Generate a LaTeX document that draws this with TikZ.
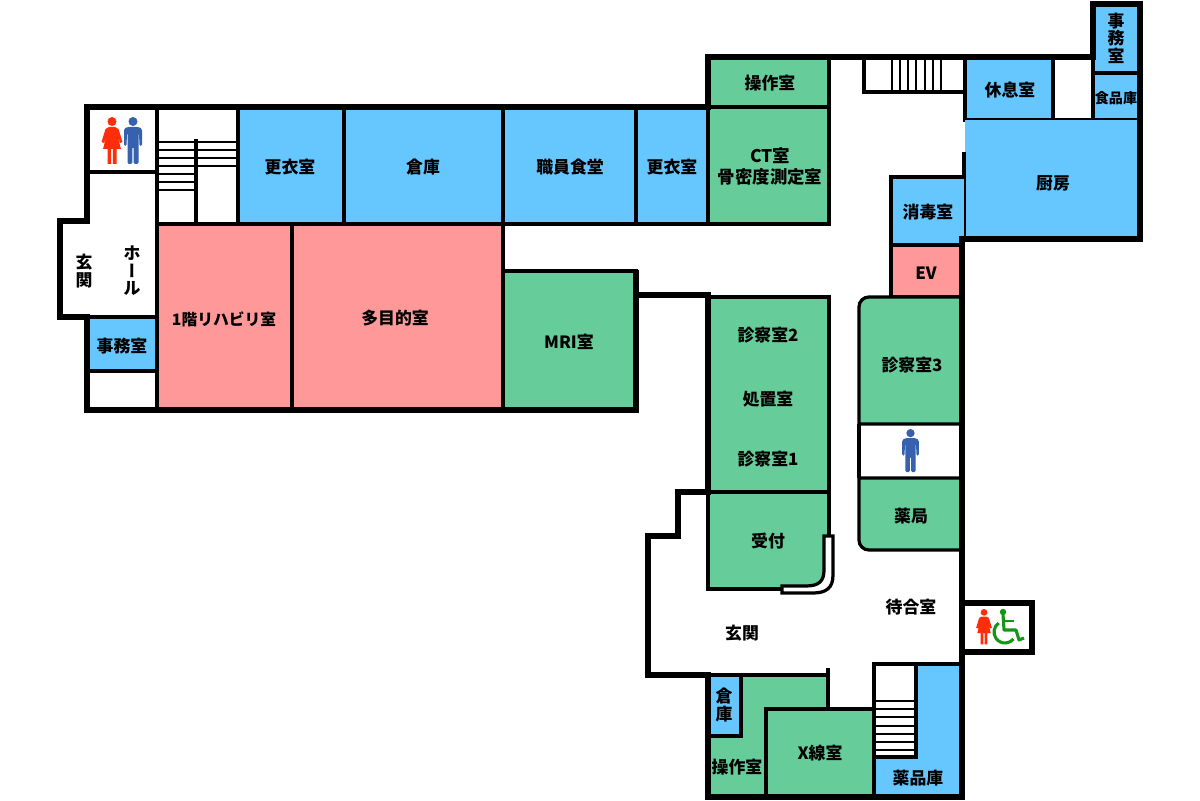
\documentclass[tikz,border=0pt]{standalone}
\usepackage{fontspec}
\setmainfont{Noto Sans CJK JP}
\newfontfamily\vertfont[RawFeature=+vert]{Noto Sans CJK JP}
\definecolor{roomblue}{HTML}{66C7FF}
\definecolor{roompink}{HTML}{FF9999}
\definecolor{roomgreen}{HTML}{66CC99}
\definecolor{signred}{HTML}{FF2E0A}
\definecolor{signblue}{HTML}{3561AE}
\definecolor{signgreen}{HTML}{149614}
\tikzset{
  wall/.style={line width=3.6pt,line cap=rect},
  part/.style={line width=2.3pt},
  bluerm/.style={part,draw=black,fill=roomblue},
  pinkrm/.style={part,draw=black,fill=roompink},
  greenrm/.style={part,draw=black,fill=roomgreen},
  whiterm/.style={part,draw=black,fill=white},
  label/.style={inner sep=0pt,align=center,font=\fontsize{12}{12.4}\selectfont\bfseries},
  smalllabel/.style={label,font=\fontsize{10}{12}\selectfont\bfseries},
  manicon/.pic={
    \fill (0,4.5) circle (4.5);
    \fill[rounded corners=1pt] (-9,12) -- (-6,10) -- (6,10) -- (9,12) -- (9,29) -- (6.5,29) -- (6,16) -- (5.5,16) -- (5.5,47) -- (0.7,47) -- (0.7,30) -- (-0.7,30) -- (-0.7,47) -- (-5.5,47) -- (-5.5,16) -- (-6,16) -- (-6.5,29) -- (-9,29) -- cycle;
  },
  womanicon/.pic={
    \fill (0,4.5) circle (4.5);
    \fill (-3,10) -- (3,10) -- (6.5,12) -- (10.5,25) -- (8,26) -- (5,17) -- (9,32) -- (4.5,32) -- (4.5,47) -- (0.8,47) -- (0.8,32) -- (-0.8,32) -- (-0.8,47) -- (-4.5,47) -- (-4.5,32) -- (-9,32) -- (-5,17) -- (-8,26) -- (-10.5,25) -- (-6.5,12) -- cycle;
  }
}
\begin{document}
\begin{tikzpicture}[x=0.025cm,y=-0.025cm]
  \useasboundingbox (0,0) rectangle (1200,800);
  % west wing
  \draw[whiterm] (87,107) rectangle (157,172);
  \draw[part] (87,172) -- (157,172) -- (157,410);
  \draw[whiterm] (157,107) rectangle (238,224);
  \draw[part] (196,139) -- (196,224);
  \foreach \y in {142,150,158,166} \draw[line width=1.7pt] (157,\y) -- (238,\y);
  \foreach \y in {174,182,190} \draw[line width=1.7pt] (157,\y) -- (196,\y);
  \draw[bluerm] (238,107) rectangle (344,224);
  \draw[bluerm] (344,107) rectangle (503,224);
  \draw[bluerm] (503,107) rectangle (636,224);
  \draw[bluerm] (636,107) rectangle (708,224);
  \draw[pinkrm] (157,224) rectangle (292,410);
  \draw[pinkrm] (292,224) rectangle (503,410);
  \draw[greenrm] (503,271) rectangle (636,410);
  \draw[bluerm] (87,317) rectangle (157,371);
  % north wing
  \draw[greenrm] (708,57) rectangle (829,107);
  \draw[greenrm] (708,107) rectangle (829,224);
  \draw[whiterm] (864,57) rectangle (965,92);
  \foreach \x in {892,900,908,916,925,933,941} \draw[line width=1.5pt] (\x,57) -- (\x,92);
  \draw[bluerm] (965,57) rectangle (1053,120);
  \draw[part] (1053,120) -- (1093,120);
  \draw[bluerm] (1093,4) rectangle (1140,73);
  \draw[bluerm] (1093,73) rectangle (1140,120);
  \fill[roomblue] (965,120) rectangle (1140,239);
  \draw[part] (964,152) -- (964,239);
  \draw[bluerm] (964,177) -- (891,177) -- (891,245) -- (964,245);
  \draw[pinkrm] (891,245) rectangle (962,297);
  % centre
  \draw[greenrm] (708,297) rectangle (829,492);
  \draw[greenrm] (962,297) [rounded corners=7pt] -- (859,297) [sharp corners] -- (859,424) -- (962,424);
  \draw[part] (859,424) -- (859,478);
  \draw[greenrm] (962,478) -- (859,478) [rounded corners=7pt] -- (859,550) -- (962,550);
  \fill[roomgreen] (708,492) -- (829,492) -- (829,589) -- (708,589) -- cycle;
  \draw[part] (829,540) -- (829,492) -- (708,492) -- (708,589) -- (782,589);
  \fill[white] (829,570) rectangle (835,595);
  \fill[white] (795,590) rectangle (835,595);
  \draw[part,fill=white] (824,536) -- (833,536) -- (833,575) .. controls (833,588) and (826,593) .. (813,593) -- (782,593) -- (782,586) -- (806,586) .. controls (819,586) and (824,581) .. (824,570) -- cycle;
  % south wing
  \draw[greenrm] (708,675) -- (828,675) -- (828,709) -- (766,709) -- (766,797) -- (708,797) -- cycle;
  \draw[part] (828,668) -- (828,709);
  \draw[bluerm] (708,675) rectangle (741,736);
  \draw[greenrm] (766,709) rectangle (874,797);
  \draw[bluerm] (874,664) -- (962,664) -- (962,797) -- (874,797) -- cycle;
  \draw[whiterm] (874,664) rectangle (916,757);
  \foreach \y in {701,709,717,726,734,742,750} \draw[line width=1.7pt] (874,\y) -- (916,\y);
  % outer walls
  \draw[wall] (708,107) -- (87,107) -- (87,221) -- (60,221) -- (60,317) -- (87,317) -- (87,410) -- (636,410) -- (636,273);
  \draw[wall] (708,107) -- (708,57) -- (1093,57) -- (1093,4) -- (1140,4) -- (1140,239) -- (962,239) -- (962,797) -- (708,797) -- (708,675) -- (648,675) -- (648,536) -- (678,536) -- (678,492) -- (708,492) -- (708,295) -- (636,295);
  \draw[wall] (962,603) -- (1032,603) -- (1032,652) -- (962,652);
  % signs
  \pic[signred] at (112,117) {womanicon};
  \pic[signblue] at (133,117) {manicon};
  \pic[signblue,scale=.92] at (910.5,429) {manicon};
  \pic[signred,scale=.75] at (984,609) {womanicon};
  \fill[signgreen] (1003,612) circle (3.2);
  \draw[signgreen,line width=2.2pt,line join=round] (1003,614) -- (1004,630) -- (1016,630) -- (1019,640) -- (1024,638);
  \draw[signgreen,line width=1.9pt] (1004,621) -- (1014,621);
  \draw[signgreen,line width=2.2pt] (1005,632) ++(235:11) arc (235:40:11);
  % labels
  \node[label] (kouiW) at (290,167) {更衣室};
  \node[label] (soukoW) at (423,167) {倉庫};
  \node[label] (shokudou) at (570,167) {職員食堂};
  \node[label] (kouiE) at (672,167) {更衣室};
  \node[label] (sousaN) at (770,83) {操作室};
  \node[label,font=\fontsize{12.4}{15}\selectfont\bfseries] (ct) at (770,166) {CT室\\骨密度測定室};
  \node[label] (kyusoku) at (1010,90) {休息室};
  \node[label] (jimuE) at (1116,38) {事\\務\\室};
  \node[smalllabel] (shokuhin) at (1116,98) {食品庫};
  \node[label] (chubo) at (1053,183) {厨房};
  \node[label] (shodoku) at (928,212) {消毒室};
  \node[label] (ev) at (926,273) {EV};
  \node[label] (genkanW) at (84,271) {玄\\関};
  \node[label] (hall) at (132,271) {ホ\\{\vertfont ー}\\ル};
  \node[label] (jimuW) at (122,346) {事務室};
  \node[label,font=\fontsize{11.2}{14}\selectfont\bfseries] (reha) at (224,319) {1階リハビリ室};
  \node[label] (tamoku) at (395,318) {多目的室};
  \node[label] (mri) at (569,342) {MRI室};
  \node[label] (shin2) at (768,335) {診察室2};
  \node[label] (shochi) at (768,399) {処置室};
  \node[label] (shin1) at (768,459) {診察室1};
  \node[label] (shin3) at (912,365) {診察室3};
  \node[label] (yakkyoku) at (911,516) {薬局};
  \node[label] (uketsuke) at (768,541) {受付};
  \node[label] (machiai) at (911,607) {待合室};
  \node[label] (genkanS) at (742,633) {玄関};
  \node[label] (soukoS) at (724,705) {倉\\庫};
  \node[label] (sousaS) at (737,767) {操作室};
  \node[label] (xsen) at (820,753) {X線室};
  \node[label] (yakuhin) at (918,778) {薬品庫};
\end{tikzpicture}
\end{document}
